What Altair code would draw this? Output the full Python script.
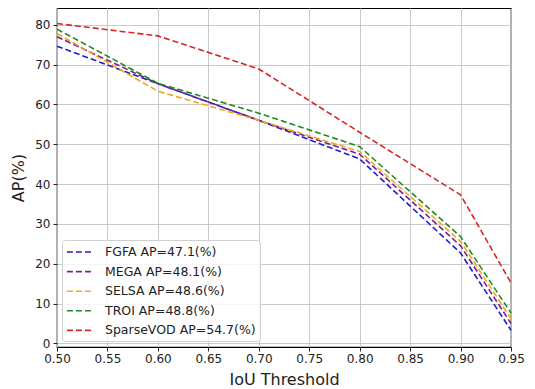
import altair as alt
import pandas as pd

iou = [0.50, 0.60, 0.70, 0.80, 0.90, 0.95]
series_names = [
    "FGFA AP=47.1(%)",
    "MEGA AP=48.1(%)",
    "SELSA AP=48.6(%)",
    "TROI AP=48.8(%)",
    "SparseVOD AP=54.7(%)",
]
fgfa = [74.6, 65.2, 56.0, 46.3, 22.7, 3.3]
mega = [77.0, 65.2, 56.0, 47.5, 24.5, 5.0]
selsa = [77.8, 63.3, 56.0, 48.2, 25.6, 6.2]
troi = [78.9, 65.3, 57.8, 49.4, 26.8, 7.6]
sparsevod = [80.3, 77.2, 68.9, 53.0, 37.3, 15.2]
colors = ["#1f1fc8", "#7f1f8f", "#f2a81d", "#1f8a1f", "#d62728"]

all_vals = [fgfa, mega, selsa, troi, sparsevod]
rows = []
for name, vals in zip(series_names, all_vals):
    for x, v in zip(iou, vals):
        rows.append({"IoU": x, "AP": v, "series": name})
df = pd.DataFrame(rows)

x_ticks = [0.50, 0.55, 0.60, 0.65, 0.70, 0.75, 0.80, 0.85, 0.90, 0.95]
y_ticks = [0, 10, 20, 30, 40, 50, 60, 70, 80]

chart = alt.Chart(df).mark_line(strokeDash=[6, 3], strokeWidth=1.6).encode(
    x=alt.X("IoU:Q", scale=alt.Scale(domain=[0.5, 0.95], nice=False, zero=False),
            axis=alt.Axis(values=x_ticks, format=".2f", title="IoU Threshold",
                          labelFlush=False, labelOverlap=False)),
    y=alt.Y("AP:Q", scale=alt.Scale(domain=[-0.9, 84.2], nice=False, zero=False),
            axis=alt.Axis(values=y_ticks, title="AP(%)", labelFlush=False)),
    color=alt.Color("series:N", scale=alt.Scale(domain=series_names, range=colors),
                    sort=series_names,
                    legend=alt.Legend(title=None, orient="none", legendX=5, legendY=232,
                                      symbolType="M-1,0H2.7", symbolDash=[6, 3],
                                      symbolStrokeWidth=1.6, symbolSize=200,
                                      symbolFillColor="transparent",
                                      labelOffset=23,
                                      labelFontSize=12.5, labelFont="DejaVu Sans",
                                      labelColor="#222222",
                                      rowPadding=4.6, padding=4,
                                      fillColor="rgba(255,255,255,0.8)",
                                      strokeColor="#d0d0d0", cornerRadius=3)),
).properties(
    width=454, height=339,
    autosize=alt.AutoSizeParams(type="none"),
    padding={"left": 49, "top": 0, "right": 16, "bottom": 40},
).configure_view(
    stroke="black", strokeWidth=1.2
).configure_axis(
    grid=True, gridColor="#c4c4c4", gridWidth=0.9,
    domain=False, tickColor="#222222", tickSize=4,
    labelFont="DejaVu Sans", labelFontSize=12, labelColor="#222222",
    titleFont="DejaVu Sans", titleFontSize=16, titleFontWeight="normal", titleColor="#222222",
    labelPadding=3,
).configure_axisY(titlePadding=8).configure_axisX(titlePadding=7, labelPadding=2)

chart.save("out.html", embed_options={"renderer": "svg", "actions": False})
